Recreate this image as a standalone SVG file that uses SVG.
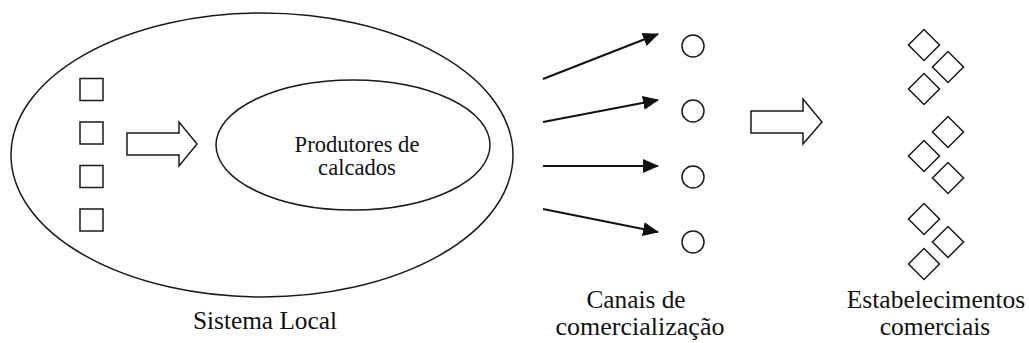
<svg xmlns="http://www.w3.org/2000/svg" width="1029" height="343" viewBox="0 0 1029 343">
<style>
.s{fill:none;stroke:#1a1a1a;stroke-width:1.5}
.t{font-family:'Liberation Serif','DejaVu Serif',serif;fill:#111;text-anchor:middle}
.c{stroke:#111;stroke-width:2;fill:none}
</style>
<defs>
<marker id="ah" markerWidth="16" markerHeight="14" refX="15" refY="7" orient="auto" markerUnits="userSpaceOnUse">
<path d="M0,0 L16,7 L0,14 Z" fill="#111"/>
</marker>
<rect id="sq" x="-11.5" y="-11" width="23" height="22" class="s"/>
<rect id="dm" x="-11" y="-11" width="22" height="22" class="s" transform="rotate(45)"/>
</defs>
<rect width="1029" height="343" fill="#fff"/>
<g id="sistema-local">
<ellipse cx="262" cy="155" rx="251" ry="142" class="s"/>
<text class="t" x="265" y="329" font-size="25.3">Sistema Local</text>
</g>
<g id="fatores">
<use href="#sq" x="91.5" y="89.5"/>
<use href="#sq" x="91.5" y="133"/>
<use href="#sq" x="91.5" y="176.5"/>
<use href="#sq" x="91.5" y="220"/>
</g>
<g id="seta-bloco-1">
<path d="M127,133 H179 V122 L197,144 L179,166 V155 H127 Z" class="s"/>
</g>
<g id="produtores">
<ellipse cx="353" cy="145" rx="137" ry="65" class="s"/>
<text class="t" x="357" y="152" font-size="22.6">Produtores de</text>
<text class="t" x="357" y="175" font-size="22.6">calcados</text>
</g>
<g id="connectors">
<line x1="543" y1="79" x2="658" y2="34" class="c" marker-end="url(#ah)"/>
<line x1="543" y1="122" x2="658" y2="100" class="c" marker-end="url(#ah)"/>
<line x1="543" y1="166" x2="658" y2="166" class="c" marker-end="url(#ah)"/>
<line x1="543" y1="209" x2="658" y2="232" class="c" marker-end="url(#ah)"/>
</g>
<g id="canais">
<circle cx="693" cy="46" r="11" class="s"/>
<circle cx="693" cy="111" r="11" class="s"/>
<circle cx="693" cy="177" r="11" class="s"/>
<circle cx="693" cy="242" r="11" class="s"/>
<text class="t" x="636" y="308" font-size="25.3">Canais de</text>
<text class="t" x="640" y="335" font-size="26">comercialização</text>
</g>
<g id="seta-bloco-2">
<path d="M751,111 H803 V99 L822,122 L803,144 V133 H751 Z" class="s"/>
</g>
<g id="estabelecimentos">
<use href="#dm" x="924" y="45"/>
<use href="#dm" x="948" y="67"/>
<use href="#dm" x="924" y="89"/>
<use href="#dm" x="948" y="132"/>
<use href="#dm" x="924" y="156"/>
<use href="#dm" x="948" y="178"/>
<use href="#dm" x="924" y="219"/>
<use href="#dm" x="948" y="242"/>
<use href="#dm" x="924" y="264"/>
<text class="t" x="936" y="308" font-size="25.5">Estabelecimentos</text>
<text class="t" x="935" y="335" font-size="25.5">comerciais</text>
</g>
</svg>
